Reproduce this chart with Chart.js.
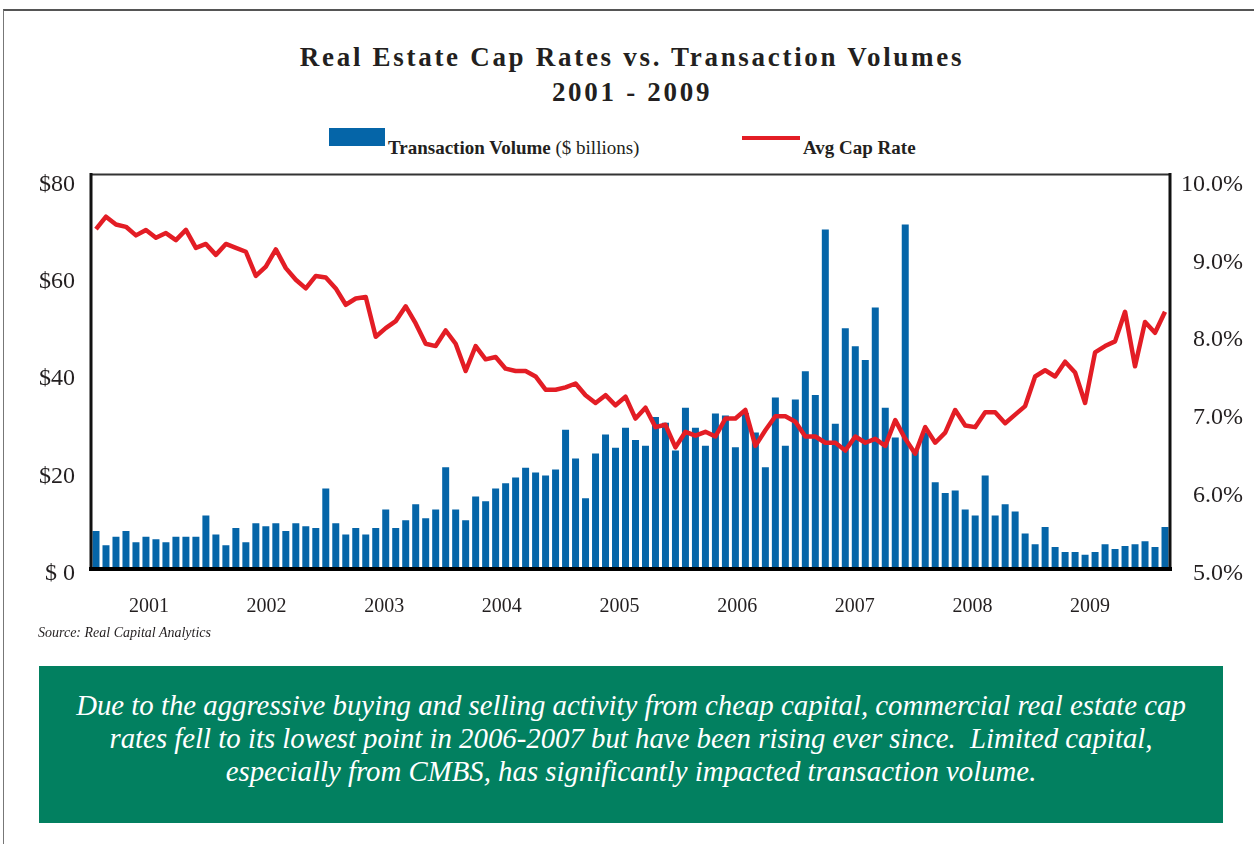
<!DOCTYPE html>
<html>
<head>
<meta charset="utf-8">
<script src="https://cdn.jsdelivr.net/npm/chart.js@4"></script>
<style>
  body { margin: 0; width: 1254px; height: 844px; position: relative; background: #fff; overflow: hidden; font-family: "Liberation Serif", serif; color: #231f20; }
  .frame { position: absolute; left: 3px; top: 9px; width: 1300px; height: 900px; border-top: 2px solid #555; border-left: 1px solid #777; }
  .title { position: absolute; left: 0; top: 40px; width: 1264px; text-align: center; font-weight: bold; font-size: 27px; line-height: 35px; letter-spacing: 2.7px; }
  .lg-box { position: absolute; left: 329px; top: 128px; width: 56px; height: 18px; background: #0565a8; }
  .lg-line { position: absolute; left: 742px; top: 136px; width: 58px; height: 4px; background: #e31d25; }
  .lg-text { position: absolute; top: 137px; font-size: 19px; line-height: 22px; font-weight: bold; white-space: nowrap; }
  .lg-text span { font-weight: normal; }
  .source { position: absolute; left: 38px; top: 625px; font-size: 14px; font-style: italic; }
  .note { position: absolute; left: 39px; top: 666px; width: 1184px; height: 157px; background: #028060; color: #fff; font-style: italic; font-size: 28.8px; line-height: 33px; text-align: center; box-sizing: border-box; padding-top: 23px; white-space: nowrap; }
  #wrap { position: absolute; left: 0; top: 144px; width: 1254px; height: 496px; }
</style>
</head>
<body>
<div class="frame"></div>
<div class="title">Real Estate Cap Rates vs. Transaction Volumes<br>2001 - 2009</div>
<div class="lg-box"></div>
<div class="lg-text" style="left:388px">Transaction Volume <span>($ billions)</span></div>
<div class="lg-line"></div>
<div class="lg-text" style="left:803px">Avg Cap Rate</div>
<div id="wrap"><canvas id="chart" width="1254" height="496"></canvas></div>
<div class="source">Source: Real Capital Analytics</div>
<div class="note">Due to the aggressive buying and selling activity from cheap capital, commercial real estate cap<br>rates fell to its lowest point in 2006-2007 but have been rising ever since.&nbsp; Limited capital,<br>especially from CMBS, has significantly impacted transaction volume.</div>

<script>
// Monthly data, Jan 2001 - Dec 2009
const years = [2001, 2002, 2003, 2004, 2005, 2006, 2007, 2008, 2009];
const months = ['Jan', 'Feb', 'Mar', 'Apr', 'May', 'Jun', 'Jul', 'Aug', 'Sep', 'Oct', 'Nov', 'Dec'];

// Transaction volume, $ billions
const volume = [
  7.8, 4.9, 6.6, 7.8, 5.5, 6.6, 6.1, 5.5, 6.6, 6.6, 6.6, 11.0,
  7.1, 4.9, 8.4, 5.5, 9.4, 8.8, 9.4, 7.8, 9.4, 8.8, 8.4, 16.5,
  9.4, 7.1, 8.4, 7.1, 8.4, 12.2, 8.4, 10.0, 13.3, 10.4, 12.2, 20.9,
  12.2, 10.0, 14.9, 13.9, 16.5, 17.6, 18.8, 20.8, 19.8, 19.2, 20.4, 28.6,
  22.7, 14.5, 23.7, 27.6, 24.9, 29.0, 26.5, 25.3, 31.2, 30.0, 24.3, 33.1,
  29.0, 25.3, 31.9, 31.5, 25.0, 32.0, 28.0, 20.9, 35.2, 25.3, 34.8, 40.6,
  35.7, 69.7, 29.8, 49.4, 45.7, 42.9, 53.7, 33.1, 27.0, 70.7, 24.3, 28.0,
  17.8, 15.6, 16.1, 12.2, 11.0, 19.2, 11.0, 13.3, 11.8, 7.3, 5.1, 8.6,
  4.5, 3.5, 3.5, 2.9, 3.5, 5.1, 4.1, 4.7, 5.1, 5.7, 4.5, 8.6
];

// Average cap rate, %
const capRate = [
  9.36, 9.52, 9.42, 9.39, 9.28, 9.35, 9.25, 9.31, 9.22, 9.35, 9.12, 9.17,
  9.03, 9.17, 9.12, 9.07, 8.76, 8.88, 9.10, 8.86, 8.71, 8.60, 8.76, 8.74,
  8.60, 8.39, 8.47, 8.49, 7.98, 8.09, 8.18, 8.37, 8.15, 7.89, 7.86, 8.06,
  7.89, 7.54, 7.86, 7.69, 7.72, 7.57, 7.54, 7.54, 7.47, 7.30, 7.30, 7.33,
  7.38, 7.23, 7.13, 7.23, 7.10, 7.21, 6.93, 7.07, 6.82, 6.85, 6.56, 6.76,
  6.71, 6.76, 6.70, 6.93, 6.93, 7.04, 6.58, 6.78, 6.96, 6.96, 6.89, 6.70,
  6.70, 6.62, 6.62, 6.52, 6.70, 6.62, 6.67, 6.58, 6.91, 6.67, 6.48, 6.82,
  6.62, 6.75, 7.04, 6.84, 6.82, 7.01, 7.01, 6.87, 6.98, 7.09, 7.47, 7.55,
  7.47, 7.66, 7.52, 7.13, 7.78, 7.86, 7.92, 8.30, 7.60, 8.17, 8.03, 8.30
];

const volumeTicks = [0, 20, 40, 60, 80];
const rateTicks = [5, 6, 7, 8, 9, 10];

const labels = [];
years.forEach(y => months.forEach(m => labels.push(m + ' ' + y)));

const tickFont = { family: '"Liberation Serif", serif', size: 24 };

// frame round the plot area, heavier at the bottom like the original
const plotFrame = {
  id: 'plotFrame',
  afterDatasetsDraw(chart) {
    const { ctx, chartArea: a } = chart;
    ctx.save();
    ctx.lineCap = 'square';
    ctx.strokeStyle = '#333';
    ctx.lineWidth = 2;
    ctx.beginPath(); ctx.moveTo(a.left, a.top); ctx.lineTo(a.right, a.top); ctx.stroke();
    ctx.strokeStyle = '#111';
    ctx.lineWidth = 3;
    ctx.beginPath(); ctx.moveTo(a.left, a.top); ctx.lineTo(a.left, a.bottom); ctx.stroke();
    ctx.beginPath(); ctx.moveTo(a.right, a.top); ctx.lineTo(a.right, a.bottom); ctx.stroke();
    ctx.strokeStyle = '#000';
    ctx.lineWidth = 4;
    ctx.beginPath(); ctx.moveTo(a.left, a.bottom); ctx.lineTo(a.right, a.bottom); ctx.stroke();
    ctx.restore();
  }
};

new Chart(document.getElementById('chart'), {
  data: {
    labels: labels,
    datasets: [
      {
        type: 'line',
        label: 'Avg Cap Rate',
        data: capRate,
        yAxisID: 'y2',
        borderColor: '#e31d25',
        borderWidth: 4.5,
        pointRadius: 0,
        tension: 0,
        borderJoinStyle: 'round',
        order: 0
      },
      {
        type: 'bar',
        label: 'Transaction Volume ($ billions)',
        data: volume,
        yAxisID: 'y',
        backgroundColor: '#0565a8',
        barPercentage: 0.7,
        categoryPercentage: 1.0,
        order: 1
      }
    ]
  },
  options: {
    responsive: false,
    devicePixelRatio: 1,
    animation: false,
    layout: { padding: { left: 20, right: 11, top: 12, bottom: 11 } },
    plugins: { legend: { display: false }, tooltip: { enabled: false } },
    scales: {
      x: { type: 'category', display: false, offset: true },
      xYear: {
        type: 'linear',
        position: 'bottom',
        min: 2000.507,
        max: 2009.68,
        afterBuildTicks: s => { s.ticks = years.map(v => ({ value: v })); },
        afterFit: s => { s.height = 60; },
        grid: { display: false, drawTicks: false },
        border: { display: false },
        ticks: {
          padding: 26,
          color: '#231f20',
          font: { family: '"Liberation Serif", serif', size: 20 },
          callback: v => String(v)
        }
      },
      y: {
        position: 'left',
        min: 0,
        max: 81,
        afterBuildTicks: s => { s.ticks = volumeTicks.map(v => ({ value: v })); },
        afterFit: s => { s.width = 71; },
        grid: { display: false, drawTicks: false },
        border: { display: false },
        ticks: {
          padding: 16,
          labelOffset: 5,
          color: '#231f20',
          font: tickFont,
          callback: v => v === 0 ? '$ 0' : '$' + v
        }
      },
      y2: {
        position: 'right',
        min: 5,
        max: 10.0625,
        afterBuildTicks: s => { s.ticks = rateTicks.map(v => ({ value: v })); },
        afterFit: s => { s.width = 73; },
        grid: { display: false, drawTicks: false },
        border: { display: false },
        ticks: {
          padding: 10,
          labelOffset: 5,
          crossAlign: 'far',
          color: '#231f20',
          font: tickFont,
          callback: v => v.toFixed(1) + '%'
        }
      }
    }
  },
  plugins: [plotFrame]
});
</script>
</body>
</html>
